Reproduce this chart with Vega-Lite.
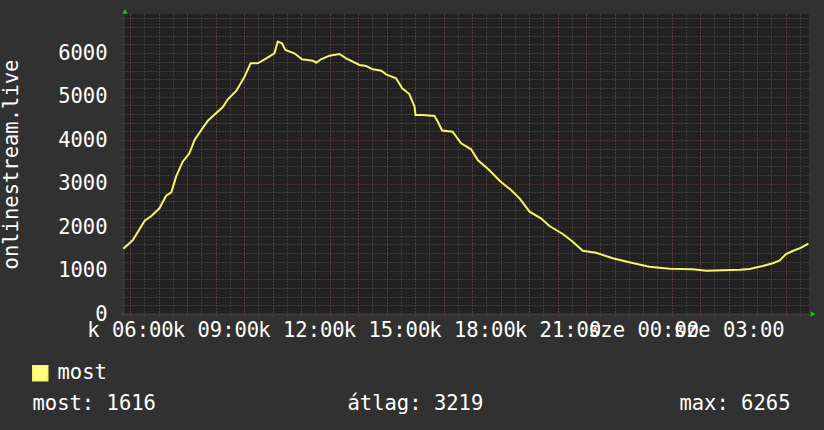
{
  "$schema": "https://vega.github.io/schema/vega-lite/v6.json",
  "width": 686,
  "height": 300,
  "autosize": {"type": "none"},
  "padding": {"left": 123, "top": 14, "right": 15, "bottom": 116},
  "background": "#313131",
  "config": {
    "view": {"fill": "#212121", "stroke": null},
    "axis": {
      "labelFont": "DejaVu Sans Mono",
      "titleFont": "DejaVu Sans Mono",
      "labelColor": "#ffffff",
      "titleColor": "#ffffff",
      "labelFontSize": 20.5,
      "titleFontSize": 20.5,
      "titleFontWeight": "normal",
      "labelOverlap": false
    }
  },
  "data": {
    "values": [
      {"h": 5.767, "v": 1500}, {"h": 6.1, "v": 1702}, {"h": 6.517, "v": 2146}, {"h": 6.75, "v": 2254},
      {"h": 7.033, "v": 2431}, {"h": 7.267, "v": 2721}, {"h": 7.45, "v": 2799}, {"h": 7.617, "v": 3158},
      {"h": 7.85, "v": 3503}, {"h": 8.083, "v": 3696}, {"h": 8.267, "v": 4002}, {"h": 8.5, "v": 4232},
      {"h": 8.733, "v": 4446}, {"h": 9.017, "v": 4616}, {"h": 9.25, "v": 4754}, {"h": 9.433, "v": 4938},
      {"h": 9.733, "v": 5136}, {"h": 10.017, "v": 5458}, {"h": 10.233, "v": 5766}, {"h": 10.483, "v": 5766},
      {"h": 10.783, "v": 5881}, {"h": 11.067, "v": 5996}, {"h": 11.183, "v": 6265}, {"h": 11.333, "v": 6226},
      {"h": 11.45, "v": 6072}, {"h": 11.767, "v": 5996}, {"h": 12.033, "v": 5858}, {"h": 12.417, "v": 5826},
      {"h": 12.533, "v": 5780}, {"h": 12.7, "v": 5858}, {"h": 13.0, "v": 5941}, {"h": 13.35, "v": 5980},
      {"h": 13.583, "v": 5881}, {"h": 14.05, "v": 5727}, {"h": 14.283, "v": 5704}, {"h": 14.517, "v": 5628},
      {"h": 14.817, "v": 5596}, {"h": 14.983, "v": 5513}, {"h": 15.333, "v": 5421}, {"h": 15.55, "v": 5191},
      {"h": 15.8, "v": 5060}, {"h": 15.983, "v": 4768}, {"h": 16.017, "v": 4577}, {"h": 16.267, "v": 4577},
      {"h": 16.683, "v": 4554}, {"h": 16.8, "v": 4423}, {"h": 16.95, "v": 4220}, {"h": 17.317, "v": 4193},
      {"h": 17.617, "v": 3926}, {"h": 17.967, "v": 3788}, {"h": 18.2, "v": 3542}, {"h": 18.6, "v": 3312},
      {"h": 18.967, "v": 3066}, {"h": 19.367, "v": 2852}, {"h": 19.667, "v": 2661}, {"h": 20.017, "v": 2353},
      {"h": 20.417, "v": 2201}, {"h": 20.717, "v": 2024}, {"h": 21.183, "v": 1840}, {"h": 21.533, "v": 1663},
      {"h": 21.883, "v": 1456}, {"h": 22.35, "v": 1410}, {"h": 22.933, "v": 1281}, {"h": 23.517, "v": 1189},
      {"h": 24.217, "v": 1088}, {"h": 24.933, "v": 1042}, {"h": 25.75, "v": 1028}, {"h": 26.217, "v": 996},
      {"h": 26.8, "v": 1005}, {"h": 27.383, "v": 1019}, {"h": 27.733, "v": 1035}, {"h": 28.2, "v": 1104},
      {"h": 28.55, "v": 1166}, {"h": 28.783, "v": 1226}, {"h": 29.017, "v": 1380}, {"h": 29.25, "v": 1449},
      {"h": 29.55, "v": 1525}, {"h": 29.717, "v": 1587}, {"h": 29.8, "v": 1616}
    ]
  },
  "layer": [
    {
      "mark": {"type": "line", "strokeWidth": 2},
      "encoding": {
        "x": {
          "field": "h", "type": "quantitative",
          "scale": {"domain": [5.7544, 29.8211], "nice": false, "zero": false},
          "axis": {
            "orient": "bottom",
            "values": [6, 6.5, 7, 7.5, 8, 8.5, 9, 9.5, 10, 10.5, 11, 11.5, 12, 12.5, 13, 13.5, 14, 14.5, 15, 15.5, 16, 16.5, 17, 17.5, 18, 18.5, 19, 19.5, 20, 20.5, 21, 21.5, 22, 22.5, 23, 23.5, 24, 24.5, 25, 25.5, 26, 26.5, 27, 27.5, 28, 28.5, 29, 29.5],
            "grid": true, "gridColor": "#5a5a5a", "gridDash": [1, 2],
            "labels": false, "ticks": true, "tickColor": "#5a5a5a", "tickSize": 2,
            "domain": false,
            "title": "most: 1616",
            "titleX": -91, "titleY": 95,
            "titleAlign": "left", "titleBaseline": "alphabetic"
          }
        },
        "y": {
          "field": "v", "type": "quantitative",
          "scale": {"domain": [0, 6900], "nice": false},
          "axis": {
            "orient": "left",
            "values": [200, 400, 600, 800, 1200, 1400, 1600, 1800, 2200, 2400, 2600, 2800, 3200, 3400, 3600, 3800, 4200, 4400, 4600, 4800, 5200, 5400, 5600, 5800, 6200, 6400, 6600, 6800],
            "grid": true, "gridColor": "#5a5a5a", "gridDash": [1, 2],
            "labels": false, "ticks": true, "tickColor": "#5a5a5a", "tickSize": 2,
            "domain": false, "title": null
          }
        },
        "color": {
          "datum": "most",
          "scale": {"range": ["#f4f46e"]},
          "legend": {
            "orient": "none", "legendX": -93, "legendY": 349,
            "title": null, "padding": 0,
            "symbolType": "square", "symbolSize": 225,
            "symbolFillColor": "#ffff80", "symbolStrokeColor": "#000000", "symbolStrokeWidth": 1.5,
            "labelFont": "DejaVu Sans Mono", "labelFontSize": 20.5, "labelColor": "#ffffff",
            "labelOffset": 7
          }
        }
      }
    },
    {
      "data": {"values": [{}]},
      "mark": {"type": "point", "shape": "triangle-up", "filled": true, "color": "#00d000", "opacity": 1, "size": 30, "clip": false},
      "encoding": {
        "x": {
          "datum": 5.825, "type": "quantitative",
          "axis": {
            "orient": "bottom",
            "values": [6, 7, 8, 9, 10, 11, 12, 13, 14, 15, 16, 17, 18, 19, 20, 21, 22, 23, 24, 25, 26, 27, 28, 29],
            "grid": true, "gridColor": "#7a3a3a", "gridDash": [1, 2],
            "ticks": true, "tickColor": "#8a3a3a", "tickSize": 2,
            "labelExpr": "datum.value % 3 == 0 ? (datum.value < 24 ? 'k ' : 'sze ') + (datum.value % 24 < 10 ? '0' : '') + (datum.value % 24) + ':00' : ''",
            "labelBaseline": "alphabetic", "labelPadding": 20.5,
            "domain": true, "domainColor": "#3c3c3c", "domainWidth": 2,
            "title": "átlag: 3219",
            "titleX": 224, "titleY": 95,
            "titleAlign": "left", "titleBaseline": "alphabetic"
          }
        },
        "y": {
          "datum": 6958, "type": "quantitative",
          "axis": {
            "orient": "left",
            "values": [0, 1000, 2000, 3000, 4000, 5000, 6000],
            "format": "d",
            "grid": true, "gridColor": "#7a3a3a", "gridDash": [1, 2],
            "ticks": true, "tickColor": "#8a3a3a", "tickSize": 2,
            "labelPadding": 14, "labelBaseline": "middle",
            "domain": true, "domainColor": "#3c3c3c", "domainWidth": 2,
            "title": "onlinestream.live",
            "titleX": -105.5, "titleY": 150, "titleAngle": -90,
            "titleAlign": "center", "titleBaseline": "alphabetic"
          }
        }
      }
    },
    {
      "data": {"values": [{}]},
      "mark": {"type": "point", "shape": "triangle-right", "filled": true, "color": "#00d000", "opacity": 1, "size": 30, "clip": false},
      "encoding": {
        "x": {
          "datum": 29.963, "type": "quantitative",
          "axis": {
            "orient": "bottom",
            "grid": false, "labels": false, "ticks": false, "domain": false,
            "title": "max: 6265",
            "titleX": 667, "titleY": 95,
            "titleAlign": "right", "titleBaseline": "alphabetic"
          }
        },
        "y": {"datum": 0, "type": "quantitative", "axis": null}
      }
    }
  ],
  "resolve": {"axis": {"x": "independent", "y": "independent"}}
}
